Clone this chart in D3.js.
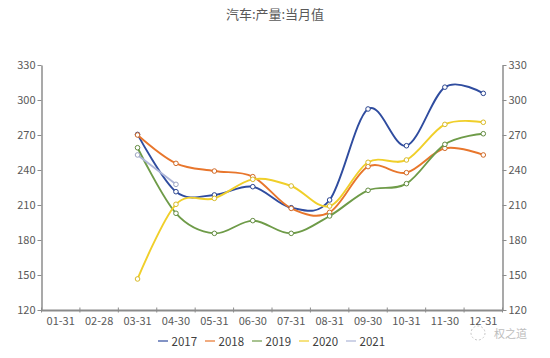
<!DOCTYPE html>
<html><head><meta charset="utf-8">
<script src="https://cdn.jsdelivr.net/npm/d3@7"></script>
<style>body{margin:0;background:#fff}svg{display:block}</style>
</head><body>
<svg id="c" width="550" height="358"></svg>
<script>
const categories = ["01-31","02-28","03-31","04-30","05-31","06-30","07-31","08-31","09-30","10-31","11-30","12-31"];
const yTicks = [120,150,180,210,240,270,300,330];
const seriesNames = ["2017","2018","2019","2020","2021"];
const colors = ["#2f4c9f","#e8762c","#6e9b48","#f0cf2a","#aeb6d8"];
const s2017 = [null,null,270.5,221.4,218.6,225.7,207.7,214.3,292.3,260.8,311.0,305.7];
const s2018 = [null,null,270.0,245.7,239.1,234.3,207.1,203.7,242.9,237.7,258.6,252.9];
const s2019 = [null,null,259.1,202.9,185.7,196.6,185.7,200.6,222.6,228.3,262.0,271.1];
const s2020 = [null,null,146.6,210.6,215.7,232.0,226.3,209.1,246.6,248.6,279.1,280.9];
const s2021 = [null,null,252.9,227.7,null,null,null,null,null,null,null,null];
const seriesValues = [s2017,s2018,s2019,s2020,s2021];

const svg = d3.select("#c");
const font = "'Noto Sans CJK SC','Noto Sans',sans-serif";
const L = 41.5, R = 502.5, T = 65, B = 310;
const x = d3.scaleBand().domain(categories).range([L,R]);
const y = d3.scaleLinear().domain([120,330]).range([B,T]);

svg.append("text").attr("x",275).attr("y",19).attr("text-anchor","middle")
  .attr("font-family",font).attr("font-size",13).attr("fill","#595959").text("汽车:产量:当月值");

const axisColor = "#8c8c8c";
function styleAxis(g){
  g.selectAll(".domain").attr("stroke",axisColor).attr("stroke-width",1.5);
  g.selectAll(".tick line").attr("stroke",axisColor);
  g.selectAll(".tick text").attr("font-family",font).attr("font-size",11).attr("fill","#595959");
}
const yl = svg.append("g").attr("transform",`translate(${L},0)`)
  .call(d3.axisLeft(y).tickValues(yTicks).tickSize(4).tickSizeOuter(0).tickPadding(2));
styleAxis(yl);
const yr = svg.append("g").attr("transform",`translate(${R},0)`)
  .call(d3.axisRight(y).tickValues(yTicks).tickSize(4).tickSizeOuter(0).tickPadding(2));
styleAxis(yr);

const xg = svg.append("g").attr("transform",`translate(0,${B})`)
  .call(d3.axisBottom(x).tickSize(0).tickPadding(7));
styleAxis(xg);
xg.select(".domain").attr("stroke-width",2);
const bounds = categories.map(c=>x(c)).concat([R]);
xg.selectAll(".bt").data(bounds).join("line").attr("class","bt")
  .attr("x1",d=>d).attr("x2",d=>d).attr("y1",-2.5).attr("y2",2.5).attr("stroke",axisColor);

const line = d3.line()
  .defined(d=>d.v!=null)
  .x(d=>x(d.c)+x.bandwidth()/2).y(d=>y(d.v))
  .curve(d3.curveCatmullRom.alpha(0));

seriesValues.forEach((vals,i)=>{
  const data = categories.map((c,j)=>({c, v: vals[j]}));
  svg.append("path").datum(data).attr("d",line).attr("fill","none")
    .attr("stroke",colors[i]).attr("stroke-width",1.9);
});
seriesValues.forEach((vals,i)=>{
  const data = categories.map((c,j)=>({c, v: vals[j]})).filter(d=>d.v!=null);
  svg.append("g").selectAll("circle").data(data).join("circle")
    .attr("cx",d=>x(d.c)+x.bandwidth()/2).attr("cy",d=>y(d.v)).attr("r",2.3)
    .attr("fill","#fff").attr("stroke",d3.color(colors[i]).darker(0.3)).attr("stroke-width",1);
});

const lg = svg.append("g");
seriesNames.forEach((n,i)=>{
  const lx = 158 + i*47;
  lg.append("line").attr("x1",lx).attr("x2",lx+10).attr("y1",341).attr("y2",341)
    .attr("stroke",colors[i]).attr("stroke-width",1.2);
  lg.append("text").attr("x",lx+13.5).attr("y",345.5).attr("font-family",font)
    .attr("font-size",11.5).attr("fill","#404040").text(n);
});

svg.append("circle").attr("cx",478).attr("cy",333).attr("r",7).attr("fill","none")
  .attr("stroke","#c8c8c8").attr("stroke-dasharray","2,2");
svg.append("text").attr("x",494).attr("y",337.5).attr("font-family",font)
  .attr("font-size",11).attr("fill","#bdbdbd").text("权之道");
</script>
</body></html>
